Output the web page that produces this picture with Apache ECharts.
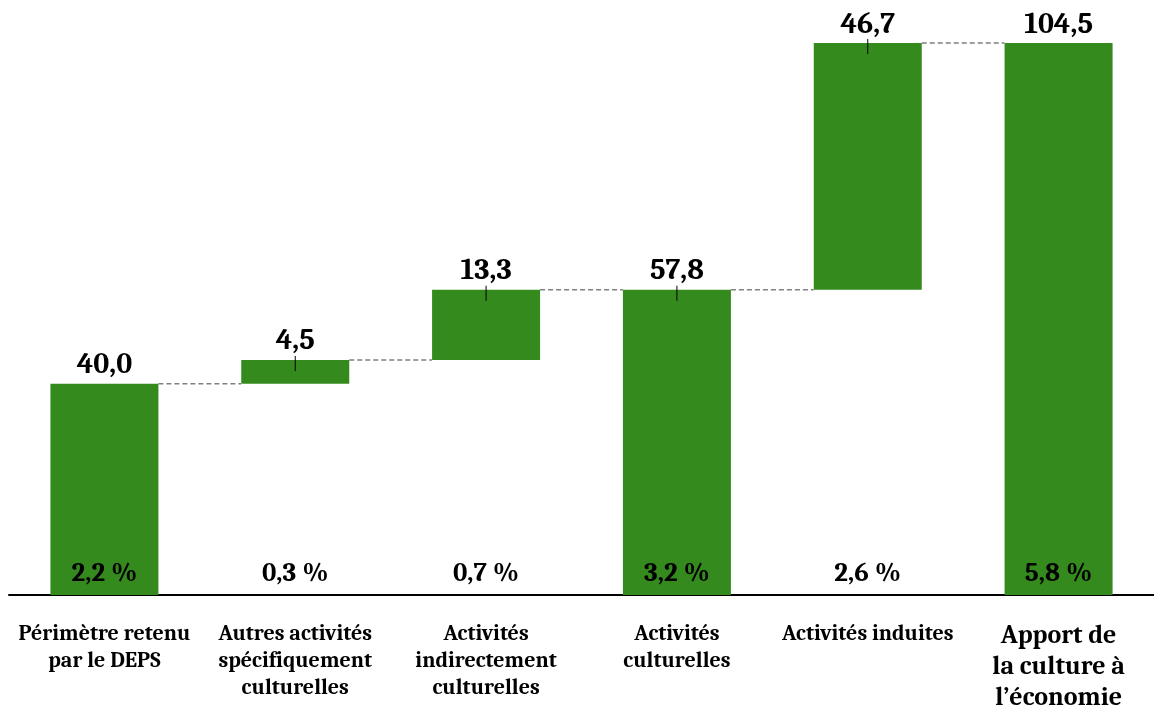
<!DOCTYPE html>
<html>
<head>
<meta charset="utf-8">
<script src="https://cdn.jsdelivr.net/npm/echarts@6/dist/echarts.min.js"></script>
<style>
html,body{margin:0;padding:0;background:#fff;}
#chart{width:1154px;height:713px;}
</style>
</head>
<body>
<div id="chart"></div>
<script>
const categories = ['Périmètre retenu\npar le DEPS', 'Autres activités\nspécifiquement\nculturelles', 'Activités\nindirectement\nculturelles', 'Activités\nculturelles', 'Activités induites', 'Apport de\nla culture à\nl’économie'];
const values = [40.0, 4.5, 13.3, 57.8, 46.7, 104.5];
const isTotal = [true, false, false, true, false, true];
const pctLabels = ['2,2 %', '0,3 %', '0,7 %', '3,2 %', '2,6 %', '5,8 %'];
const showTick = [false, true, true, true, true, false];

const FONT = 'Caladea, "Liberation Serif", serif';
const GREEN = '#358A1E';
const BAR_W = 108;

const bases = [], ends = [];
let run = 0;
values.forEach((v, i) => {
  if (isTotal[i]) { bases.push(0); run = v; }
  else { bases.push(run); run = run + v; }
  ends.push(run);
});
const fmt = v => v.toFixed(1).replace('.', ',');

const chart = echarts.init(document.getElementById('chart'));
chart.setOption({
  animation: false,
  backgroundColor: '#fff',
  grid: { left: 9, width: 1152, top: 14, bottom: 113, containLabel: false },
  xAxis: {
    type: 'category',
    data: categories,
    axisLine: { lineStyle: { color: '#000', width: 2 } },
    axisTick: { show: false },
    axisLabel: {
      interval: 0,
      margin: 25,
      fontFamily: FONT,
      fontWeight: 'bold',
      fontSize: 22,
      lineHeight: 27,
      color: '#000',
      formatter: (v, i) => i === categories.length - 1 ? '{big|' + v + '}' : v,
      rich: { big: { fontFamily: FONT, fontWeight: 'bold', fontSize: 26, lineHeight: 31, color: '#000' } }
    }
  },
  yAxis: {
    type: 'value', min: 0, max: 110,
    show: false, splitLine: { show: false }
  },
  series: [
    {
      type: 'bar', stack: 'w', barWidth: BAR_W, silent: true,
      itemStyle: { color: 'transparent' },
      data: bases
    },
    {
      type: 'bar', stack: 'w', barWidth: BAR_W,
      itemStyle: { color: GREEN },
      data: values,
      label: {
        show: true, position: 'top', distance: 4,
        fontFamily: FONT, fontWeight: 'bold', fontSize: 30, color: '#000',
        formatter: p => fmt(values[p.dataIndex])
      },
      z: 2
    },
    {
      type: 'custom', silent: true, z: 5,
      data: values.map((v, i) => [i]),
      renderItem: (params, api) => {
        const i = api.value(0);
        const children = [];
        const half = BAR_W / 2;
        if (i < values.length - 1) {
          const p1 = api.coord([i, ends[i]]);
          const p2 = api.coord([i + 1, ends[i]]);
          children.push({
            type: 'line',
            shape: { x1: p1[0] + half, y1: p1[1], x2: p2[0] - half, y2: p2[1] },
            style: { stroke: '#808080', lineWidth: 1.5, lineDash: [5, 3] }
          });
        }
        if (showTick[i]) {
          const t = api.coord([i, ends[i]]);
          children.push({
            type: 'line',
            shape: { x1: t[0], y1: t[1] - 4, x2: t[0], y2: t[1] + 11 },
            style: { stroke: '#000', lineWidth: 1 }
          });
        }
        const b = api.coord([i, 0]);
        children.push({
          type: 'text',
          x: b[0], y: b[1] - 22,
          style: {
            text: pctLabels[i], fontFamily: FONT, fontWeight: 'bold', fontSize: 27,
            fill: '#000', align: 'center', verticalAlign: 'middle'
          }
        });
        return { type: 'group', children };
      }
    }
  ]
});
</script>
</body>
</html>
